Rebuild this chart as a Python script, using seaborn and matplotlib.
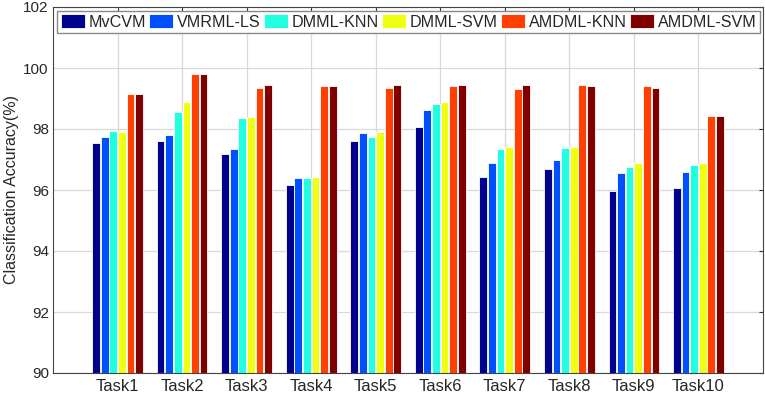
import numpy as np
import pandas as pd
import matplotlib
matplotlib.use("Agg")
import matplotlib.pyplot as plt
import seaborn as sns

tasks = ["Task1", "Task2", "Task3", "Task4", "Task5", "Task6", "Task7", "Task8", "Task9", "Task10"]
methods = ["MvCVM", "VMRML-LS", "DMML-KNN", "DMML-SVM", "AMDML-KNN", "AMDML-SVM"]

mvcvm = [97.54, 97.61, 97.19, 96.18, 97.61, 98.05, 96.43, 96.68, 95.98, 96.06]
vmrml_ls = [97.74, 97.81, 97.36, 96.40, 97.87, 98.61, 96.87, 96.98, 96.55, 96.60]
dmml_knn = [97.94, 98.56, 98.37, 96.40, 97.74, 98.83, 97.36, 97.39, 96.75, 96.83]
dmml_svm = [97.90, 98.89, 98.39, 96.43, 97.90, 98.89, 97.41, 97.41, 96.90, 96.88]
amdml_knn = [99.16, 99.79, 99.35, 99.40, 99.33, 99.40, 99.30, 99.43, 99.41, 98.41]
amdml_svm = [99.16, 99.79, 99.43, 99.42, 99.44, 99.44, 99.44, 99.40, 99.34, 98.44]

colors = ["#00008F", "#0050FF", "#20FFDF", "#EEFF10", "#FF4000", "#800000"]

series = [mvcvm, vmrml_ls, dmml_knn, dmml_svm, amdml_knn, amdml_svm]
df = pd.DataFrame({
    "Task": np.tile(tasks, len(methods)),
    "Method": np.repeat(methods, len(tasks)),
    "Accuracy": np.concatenate(series),
})

sns.set_style("white")
plt.rcParams["font.family"] = ["Liberation Sans", "DejaVu Sans"]

fig = plt.figure(figsize=(7.65, 3.93), dpi=100)
ax = fig.add_axes([53 / 765, 20 / 393, 710 / 765, 366 / 393])

sns.barplot(data=df, x="Task", y="Accuracy", hue="Method", order=tasks,
            hue_order=methods, palette=colors, width=0.8, gap=0.1,
            edgecolor="white", linewidth=0.6, saturation=1, ax=ax)

ax.set_axisbelow(True)
ax.xaxis.grid(True, color="#D9D9D9", linewidth=0.9)
ax.yaxis.grid(True, color="#D9D9D9", linewidth=0.9)

ax.set_xlim(-1, 10)
ax.set_ylim(90, 102)
ax.set_yticks(np.arange(90, 103, 2))
ax.set_xlabel("")
ax.set_ylabel("Classification Accuracy(%)", fontsize=11.5, labelpad=3)
ax.tick_params(axis="both", direction="in", length=3, color="#333333",
               top=True, right=True)
ax.tick_params(axis="x", labelsize=12, pad=4)
ax.tick_params(axis="y", labelsize=11, pad=3)
for s in ax.spines.values():
    s.set_color("#444444")
    s.set_linewidth(0.8)

handles, labels = ax.get_legend_handles_labels()
ax.legend(handles, labels, loc="lower left", ncol=6, mode="expand",
          bbox_to_anchor=(0.006, 0.928, 0.99, 0.064), fontsize=11.6,
          handlelength=1.5, handleheight=1.0, handletextpad=0.25,
          borderpad=0.22, columnspacing=0.3, fancybox=False,
          edgecolor="#888888", framealpha=1, borderaxespad=0)

fig.savefig("out.png", dpi=100)
